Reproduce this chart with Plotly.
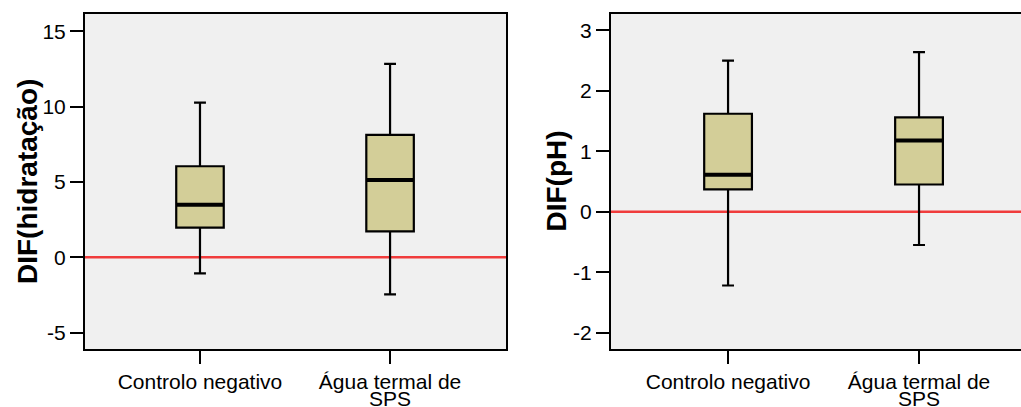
import plotly.graph_objects as go

# Groups on the x axis
categories = ["Controlo negativo", "Água termal de SPS"]
tick_line1 = ["Controlo negativo", "Água termal de"]
tick_line2 = ["", "SPS"]

# Five-number summaries of DIF(hidratação)
hid_lower = [-1.06, -2.46]
hid_q1 = [1.97, 1.72]
hid_median = [3.49, 5.13]
hid_q3 = [6.04, 8.12]
hid_upper = [10.26, 12.83]

# Five-number summaries of DIF(pH)
ph_lower = [-1.22, -0.55]
ph_q1 = [0.37, 0.45]
ph_median = [0.61, 1.18]
ph_q3 = [1.62, 1.56]
ph_upper = [2.50, 2.64]

hid_ticks = [-5, 0, 5, 10, 15]
ph_ticks = [-2, -1, 0, 1, 2, 3]

BOX_FILL = "#d3ce98"
PLOT_BG = "#f0f0f0"
REF_RED = "#f03c3c"
FONT = "Liberation Sans, Arial, sans-serif"
BOX_W = 0.25

W, H = 1021, 407

fig = go.Figure()

positions = list(range(len(categories)))


def add_panel(xa, ya, lower, q1, med, q3, upper):
    for i, name in enumerate(categories):
        fig.add_trace(go.Box(
            x=[positions[i]], q1=[q1[i]], median=[med[i]], q3=[q3[i]],
            lowerfence=[lower[i]], upperfence=[upper[i]],
            width=BOX_W, whiskerwidth=0.25,
            fillcolor=BOX_FILL, line=dict(color="black", width=2.2),
            boxpoints=False, name=name, showlegend=False,
            xaxis=xa, yaxis=ya, hoverinfo="skip",
        ))
        # heavier median bar
        fig.add_trace(go.Scatter(
            x=[positions[i] - BOX_W / 2, positions[i] + BOX_W / 2],
            y=[med[i], med[i]], mode="lines",
            line=dict(color="black", width=4),
            showlegend=False, xaxis=xa, yaxis=ya, hoverinfo="skip",
        ))


add_panel("x", "y", hid_lower, hid_q1, hid_median, hid_q3, hid_upper)
add_panel("x2", "y2", ph_lower, ph_q1, ph_median, ph_q3, ph_upper)

axis_common = dict(
    showgrid=False, zeroline=False, showline=True, linecolor="black",
    linewidth=2, ticks="outside", ticklen=13, tickwidth=2,
    tickcolor="black", automargin=False,
    tickfont=dict(family=FONT, size=21, color="black"),
)

py0, py1 = 1 - 349 / H, 1 - 14 / H

fig.update_layout(
    width=W, height=H,
    margin=dict(l=0, r=0, t=0, b=0),
    paper_bgcolor="white", plot_bgcolor=PLOT_BG,
    font=dict(family=FONT, color="black"),
    xaxis=dict(axis_common, domain=[85 / W, 506 / W], range=[-0.605, 1.61],
               tickvals=positions, ticktext=tick_line1, mirror=True,
               anchor="y"),
    yaxis=dict(axis_common, domain=[py0, py1], range=[-6.08, 16.14],
               tickvals=hid_ticks, ticktext=[str(v) for v in hid_ticks],
               mirror=True, anchor="x"),
    xaxis2=dict(axis_common, domain=[611 / W, 1.0], range=[-0.613, 1.534],
                tickvals=positions, ticktext=tick_line1, mirror=True,
                anchor="y2"),
    yaxis2=dict(axis_common, domain=[py0, py1], range=[-2.27, 3.27],
                tickvals=ph_ticks, ticktext=[str(v) for v in ph_ticks],
                mirror=False, anchor="x2"),
)

# zero reference lines
for xr, yr in (("x", "y"), ("x2", "y2")):
    fig.add_shape(type="line", xref=f"{xr} domain", yref=yr,
                  x0=0, x1=1, y0=0, y1=0, layer="below",
                  line=dict(color=REF_RED, width=2.5))

# second line of the category labels
for xr in ("x", "x2"):
    for i, txt in enumerate(tick_line2):
        if txt:
            fig.add_annotation(text=txt, x=positions[i], xref=xr,
                               y=1 - 398 / H, yref="paper",
                               yanchor="middle", showarrow=False,
                               font=dict(family=FONT, size=21, color="black"))

# y-axis titles
for txt, xc in (("DIF(hidratação)", 27.5), ("DIF(pH)", 556)):
    fig.add_annotation(text=f"<b>{txt}</b>", textangle=-90,
                       x=xc / W, xref="paper", y=(py0 + py1) / 2, yref="paper",
                       xanchor="center", yanchor="middle", showarrow=False,
                       font=dict(family=FONT, size=28, color="black"))

fig.write_html("out.html")
